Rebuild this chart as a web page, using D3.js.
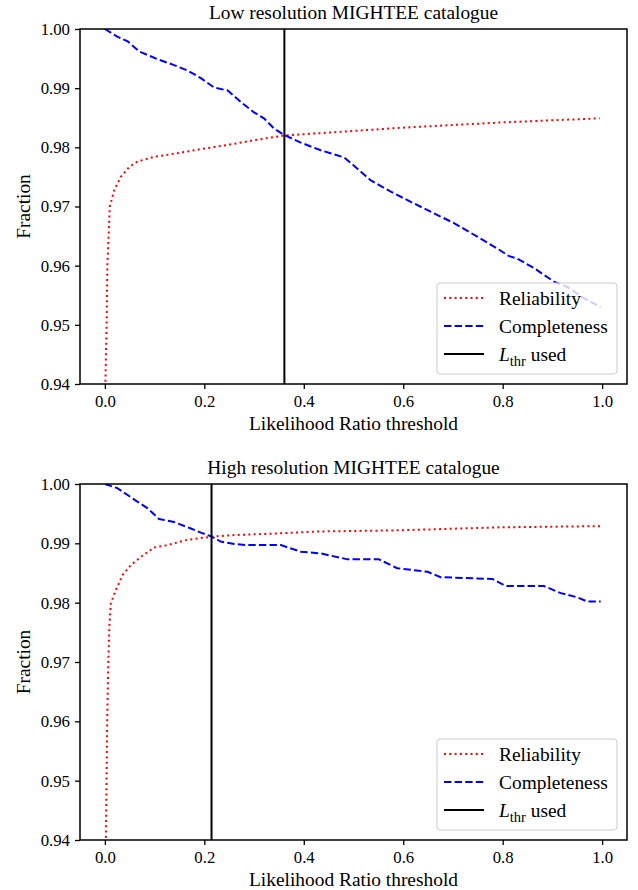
<!DOCTYPE html>
<html><head><meta charset="utf-8">
<script src="https://cdn.jsdelivr.net/npm/d3@7"></script>
<style>body{margin:0;background:#fff}svg{display:block}</style>
</head><body>
<script>
// ---- data ----
const lowRelX = [0.0, 0.001, 0.0035, 0.005, 0.010, 0.019, 0.032, 0.049, 0.066, 0.099, 0.146, 0.193, 0.247, 0.300, 0.360, 0.434, 0.595, 0.796, 0.995];
const lowRelY = [0.935, 0.940, 0.950, 0.960, 0.970, 0.9728, 0.9750, 0.9767, 0.9776, 0.9784, 0.9790, 0.9797, 0.9804, 0.9812, 0.9820, 0.9824, 0.9833, 0.9842, 0.9849];
const lowCompX = [0.0, 0.025, 0.046, 0.069, 0.106, 0.139, 0.166, 0.193, 0.220, 0.247, 0.273, 0.300, 0.320, 0.340, 0.360, 0.394, 0.434, 0.481, 0.501, 0.535, 0.575, 0.622, 0.675, 0.702, 0.749, 0.789, 0.813, 0.829, 0.863, 0.903, 0.930, 0.963, 0.997];
const lowCompY = [1.000, 0.9987, 0.9979, 0.9962, 0.9949, 0.9939, 0.9930, 0.9917, 0.9901, 0.9896, 0.9877, 0.9859, 0.9849, 0.9832, 0.9821, 0.9808, 0.9795, 0.9783, 0.9769, 0.9744, 0.9725, 0.9705, 0.9683, 0.9672, 0.9649, 0.9629, 0.9616, 0.9612, 0.9596, 0.9573, 0.9564, 0.9545, 0.9530];
const lowThr = 0.361;

const highRelX = [0.0, 0.002, 0.0047, 0.007, 0.009, 0.012, 0.022, 0.036, 0.052, 0.072, 0.099, 0.126, 0.166, 0.213, 0.260, 0.327, 0.434, 0.595, 0.796, 0.997];
const highRelY = [0.935, 0.940, 0.960, 0.9703, 0.9759, 0.9799, 0.9821, 0.9847, 0.9863, 0.9877, 0.9893, 0.9897, 0.9906, 0.9911, 0.9914, 0.9916, 0.9920, 0.9922, 0.9927, 0.9929];
const highCompX = [0.0, 0.025, 0.066, 0.086, 0.109, 0.139, 0.173, 0.193, 0.213, 0.233, 0.260, 0.287, 0.354, 0.394, 0.434, 0.488, 0.551, 0.588, 0.649, 0.675, 0.779, 0.806, 0.883, 0.917, 0.950, 0.970, 0.997];
const highCompY = [1.000, 0.9993, 0.9970, 0.9959, 0.9941, 0.9936, 0.9925, 0.9918, 0.9912, 0.9903, 0.9899, 0.9897, 0.9897, 0.9886, 0.9883, 0.9873, 0.9873, 0.9858, 0.9852, 0.9843, 0.9840, 0.9828, 0.9828, 0.9816, 0.9809, 0.9802, 0.9802];
const highThr = 0.2145;

const xTicks = [0.0, 0.2, 0.4, 0.6, 0.8, 1.0];
const yTicks = [0.94, 0.95, 0.96, 0.97, 0.98, 0.99, 1.00];
const titles = ["Low resolution MIGHTEE catalogue", "High resolution MIGHTEE catalogue"];
const seriesNames = ["Reliability", "Completeness"];

// ---- drawing ----
const FONT = "'Liberation Serif', 'Times New Roman', Times, serif";
const W = 638, H = 890;
const svg = d3.select("body").append("svg").attr("width", W).attr("height", H)
  .style("font-family", FONT);

const panels = [
  {top: 29, bottom: 384, rx: lowRelX, ry: lowRelY, cx: lowCompX, cy: lowCompY, thr: lowThr, title: titles[0]},
  {top: 484, bottom: 840, rx: highRelX, ry: highRelY, cx: highCompX, cy: highCompY, thr: highThr, title: titles[1]}
];
const left = 80, right = 627;
const BIG = "19.4px", TICK = "16.8px";

function txt(sel) { return sel.style("font-family", FONT).style("fill", "#000"); }

panels.forEach((p, i) => {
  const x = d3.scaleLinear().domain([-0.05, 1.05]).range([left, right]);
  const y = d3.scaleLinear().domain([0.94, 1.00]).range([p.bottom, p.top]);
  const g = svg.append("g");
  const cid = "clip" + i;
  g.append("clipPath").attr("id", cid).append("rect")
    .attr("x", left).attr("y", p.top).attr("width", right - left).attr("height", p.bottom - p.top);

  const line = d3.line().x(d => x(d[0])).y(d => y(d[1]));
  const plot = g.append("g").attr("clip-path", `url(#${cid})`);
  plot.append("path").datum(p.rx.map((v, k) => [v, p.ry[k]])).attr("d", line)
    .attr("fill", "none").attr("stroke", "#ff0000").attr("stroke-width", 2).attr("stroke-dasharray", "2,3.3");
  plot.append("path").datum(p.cx.map((v, k) => [v, p.cy[k]])).attr("d", line)
    .attr("fill", "none").attr("stroke", "#0000ff").attr("stroke-width", 2).attr("stroke-dasharray", "7.4,3.2");
  plot.append("line").attr("x1", x(p.thr)).attr("x2", x(p.thr)).attr("y1", p.top).attr("y2", p.bottom)
    .attr("stroke", "#000").attr("stroke-width", 2);

  // axes
  const xa = g.append("g").attr("transform", `translate(0,${p.bottom})`)
    .call(d3.axisBottom(x).tickValues(xTicks).tickFormat(d3.format(".1f")).tickSizeOuter(0).tickSize(5).tickPadding(6));
  const ya = g.append("g").attr("transform", `translate(${left},0)`)
    .call(d3.axisLeft(y).tickValues(yTicks).tickFormat(d3.format(".2f")).tickSizeOuter(0).tickSize(5).tickPadding(5));
  [xa, ya].forEach(a => {
    a.attr("font-family", null).attr("font-size", null);
    a.select(".domain").remove();
    a.selectAll("line").attr("stroke", "#000").attr("stroke-width", 1.3);
    txt(a.selectAll("text")).style("font-size", TICK);
  });
  g.append("rect").attr("x", left).attr("y", p.top).attr("width", right - left).attr("height", p.bottom - p.top)
    .attr("fill", "none").attr("stroke", "#000").attr("stroke-width", 1.5);

  // legend
  const lgY = p.bottom - 101;
  const lg = g.append("g");
  lg.append("rect").attr("x", 437).attr("y", lgY).attr("width", 180).attr("height", 91).attr("rx", 3)
    .attr("fill", "#fff").attr("fill-opacity", 0.8).attr("stroke", "#cccccc").attr("stroke-width", 1);
  const rows = [
    {name: seriesNames[0], color: "#ff0000", dash: "2,3.3"},
    {name: seriesNames[1], color: "#0000ff", dash: "7.4,3.2"},
    {name: null, color: "#000", dash: null}
  ];
  rows.forEach((r, k) => {
    const cy = lgY + 15 + k * 28;
    lg.append("line").attr("x1", 444).attr("x2", 484).attr("y1", cy).attr("y2", cy)
      .attr("stroke", r.color).attr("stroke-width", 2).attr("stroke-dasharray", r.dash);
    const t = txt(lg.append("text").attr("x", 499).attr("y", cy + 7)).style("font-size", BIG);
    if (r.name) t.text(r.name);
    else {
      t.append("tspan").style("font-style", "italic").text("L");
      t.append("tspan").style("font-size", "14.5px").attr("dy", 5).text("thr");
      t.append("tspan").attr("dy", -5).text(" used");
    }
  });

  // labels
  txt(g.append("text")).attr("x", (left + right) / 2).attr("y", p.top - 10).attr("text-anchor", "middle")
    .style("font-size", BIG).text(p.title);
  txt(g.append("text")).attr("x", (left + right) / 2).attr("y", p.bottom + 46).attr("text-anchor", "middle")
    .style("font-size", BIG).text("Likelihood Ratio threshold");
  txt(g.append("text")).attr("transform", `translate(30,${(p.top + p.bottom) / 2}) rotate(-90)`)
    .attr("text-anchor", "middle").style("font-size", BIG).text("Fraction");
});
</script>
</body></html>
